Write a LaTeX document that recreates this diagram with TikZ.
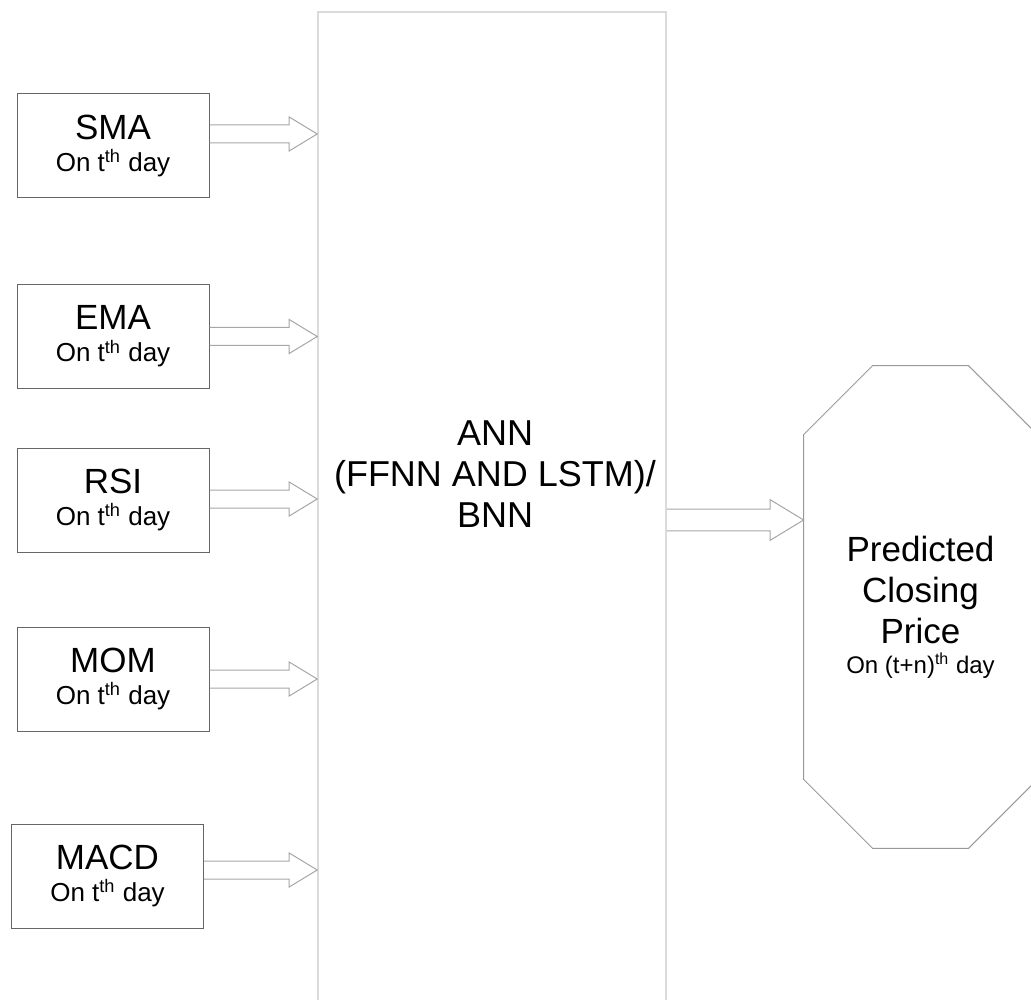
\documentclass[tikz,border=0pt]{standalone}
\usepackage{fontspec}
\setmainfont{Liberation Sans}
\usetikzlibrary{calc}

\newcommand\fatarrow[3][1]{%
  \draw[fat] let \p1=(#2), \p2=(#3) in
    (\x1,\y1+4.5pt*#1) -- (\x2-14pt*#1,\y1+4.5pt*#1) -- (\x2-14pt*#1,\y1+8.5pt*#1)
    -- (\x2,\y1) -- (\x2-14pt*#1,\y1-8.5pt*#1) -- (\x2-14pt*#1,\y1-4.5pt*#1)
    -- (\x1,\y1-4.5pt*#1);}

\begin{document}
\begin{tikzpicture}[x=.5pt,y=-.5pt,
  inbox/.style={draw=black!60,line width=.5pt,minimum width=96pt,minimum height=52pt,
    align=center,font=\fontsize{13}{16}\selectfont},
  fat/.style={draw=black!35,line width=.5pt,line join=miter},
  octo/.style={draw=black!40,line width=.5pt}]
\useasboundingbox (0,0) rectangle (1031,999);
\clip (0,0) rectangle (1031,999);

\node[draw=black!14,line width=.8pt,minimum width=174pt,minimum height=499.5pt,inner sep=0] (ann) at (492,511.5) {};
\node[align=center,font=\fontsize{18}{20.5}\selectfont] (annlbl) at (495,474) {ANN\\(FFNN AND LSTM)/\\BNN};

\foreach \bx/\lbl/\cx/\cy/\ay in {sma/SMA/113/145.5/134, ema/EMA/113/336.5/336.5,
    rsi/RSI/113/500/499, mom/MOM/113/679/679, macd/MACD/107.5/876/870}{
  \node[inbox] (\bx) at (\cx,\cy) {{\fontsize{17.5}{16}\selectfont\lbl}\\On t\textsuperscript{th} day};
  \fatarrow{\bx.east |- 0,\ay}{ann.west}
}

\node[align=center,font=\fontsize{17.5}{20.5}\selectfont,minimum width=116.5pt,minimum height=241pt] (price) at (920.5,607)
  {Predicted\\Closing\\Price\\[-5.5pt]{\fontsize{12}{14}\selectfont On (t+n)\textsuperscript{th} day}};
\draw[octo] ($(price.north west)+(69,0)$) -- ($(price.north east)+(-69,0)$) -- ($(price.north east)+(0,69)$)
  -- ($(price.south east)+(0,-69)$) -- ($(price.south east)+(-69,0)$) -- ($(price.south west)+(69,0)$)
  -- ($(price.south west)+(0,-69)$) -- ($(price.north west)+(0,69)$) -- cycle;

\fatarrow[1.2]{ann.east |- 0,520}{price.west}
\end{tikzpicture}
\end{document}
